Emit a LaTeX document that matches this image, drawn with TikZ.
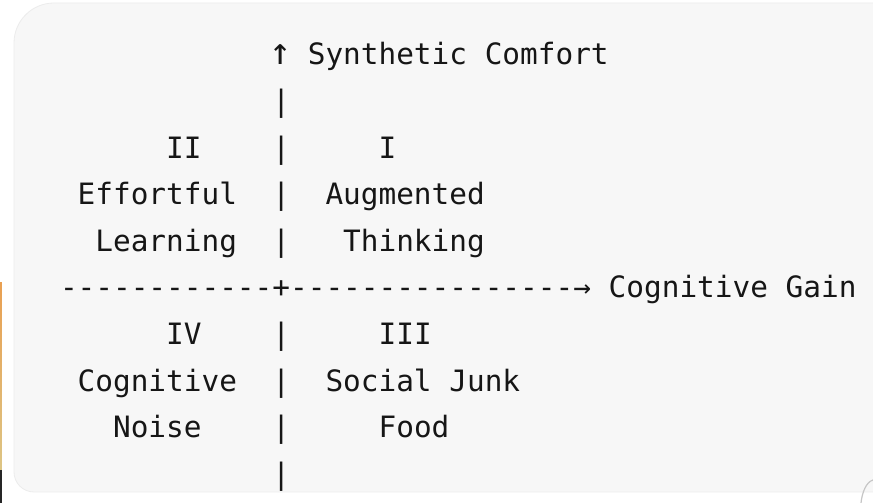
\documentclass[tikz,border=0pt]{standalone}
\usepackage{fontspec}
\newfontfamily\asciimono{DejaVu Sans Mono}[Ligatures=TeXOff, WordSpace={1,0,0}]
\definecolor{panelfill}{HTML}{F7F7F7}
\definecolor{paneledge}{HTML}{ECECEC}
\definecolor{inkgray}{HTML}{161616}
\definecolor{tabtop}{HTML}{E9A052}
\definecolor{tabbottom}{HTML}{DDC585}
\tikzset{
  ch/.style={anchor=base west, inner sep=0pt, outer sep=0pt, text=inkgray,
             font=\asciimono\fontsize{29.4}{30}\selectfont},
  bigch/.style={ch, font=\asciimono\fontsize{37}{38}\selectfont, xshift=-2.6pt},
}
\begin{document}
\begin{tikzpicture}[x=1pt, y=1pt]
  \useasboundingbox (0,0) rectangle (873,503);
  \clip (0,0) rectangle (873,503);
  \fill[white] (0,0) rectangle (873,503);

  % code panel
  \path[fill=panelfill, draw=paneledge, line width=0.8pt]
    (900,500) -- (54,500) arc[start angle=90, end angle=180, radius=40]
    -- (14,31) arc[start angle=180, end angle=270, radius=20]
    -- (900,11) -- cycle;

  % strip on the left border
  \shade[top color=tabtop, bottom color=tabbottom] (0,33) rectangle (1.8,220);
  \fill[black!85] (0,0) rectangle (1.8,33);

  % corner of a neighbouring shape, bottom right
  \draw[gray!45, line width=1.2pt] (873,23) .. controls (866,21) and (862,10) .. (861,0);

  % character grid: one column = 17.7pt, one line = 46.6pt
  \begin{scope}[shift={(60pt,438pt)}, x=17.7pt, y=-46.6pt]
    \node[bigch] (yhead)  at (12,0) {↑};
    \node[ch] (ylabel) at (14,0) {Synthetic Comfort};
    \node[ch] (bar1)   at (12,1) {|};

    \node[ch] (q2num)  at (6,2)  {II};
    \node[ch] (bar2)   at (12,2) {|};
    \node[ch] (q1num)  at (18,2) {I};

    \node[ch] (q2a)    at (1,3)  {Effortful};
    \node[ch] (bar3)   at (12,3) {|};
    \node[ch] (q1a)    at (15,3) {Augmented};

    \node[ch] (q2b)    at (2,4)  {Learning};
    \node[ch] (bar4)   at (12,4) {|};
    \node[ch] (q1b)    at (16,4) {Thinking};

    % horizontal axis: 12 dashes, the cross, 16 dashes, the arrow head
    \node[ch] (xleft)  at (0,5)  {------------};
    \node[ch] (origin) at (12,5) {+};
    \node[ch] (xright) at (13,5) {----------------};
    \node[ch] (xhead)  at (29,5) {→};
    \node[ch] (xlabel) at (31,5) {Cognitive Gain};

    \node[ch] (q4num)  at (6,6)  {IV};
    \node[ch] (bar6)   at (12,6) {|};
    \node[ch] (q3num)  at (18,6) {III};

    \node[ch] (q4a)    at (1,7)  {Cognitive};
    \node[ch] (bar7)   at (12,7) {|};
    \node[ch] (q3a)    at (15,7) {Social Junk};

    \node[ch] (q4b)    at (3,8)  {Noise};
    \node[ch] (bar8)   at (12,8) {|};
    \node[ch] (q3b)    at (18,8) {Food};

    \node[ch] (bar9)   at (12,9) {|};
  \end{scope}
\end{tikzpicture}
\end{document}
